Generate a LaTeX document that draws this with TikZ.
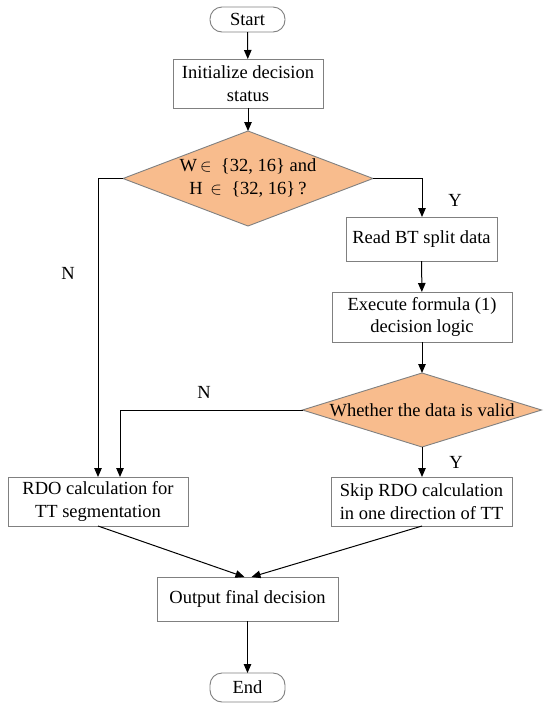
\documentclass[tikz,border=0pt]{standalone}
\usepackage{fontspec}
\setmainfont{Liberation Serif}
\usetikzlibrary{arrows.meta,shapes.geometric,calc}
\definecolor{decfill}{RGB}{248,188,141}
\definecolor{boxline}{RGB}{128,128,128}
\begin{document}
\begin{tikzpicture}[x=1pt,y=-1pt,
  font=\fontsize{18.5}{22.5}\selectfont,
  base/.style={draw=boxline,line width=0.9pt,inner sep=0pt,outer sep=0pt,align=center},
  procbox/.style={base,rectangle},
  termbox/.style={base,rectangle,rounded corners=12pt},
  decbox/.style={base,diamond,fill=decfill},
  txt/.style={inner sep=0pt,align=center},
  conn/.style={line width=1pt,-{Triangle[length=9pt,width=7.5pt]}},
  lbl/.style={inner sep=0pt}]
\useasboundingbox (0,0) rectangle (550,710);
\fill[white] (0,0) rectangle (550,710);

\node[termbox,minimum width=75pt,minimum height=25pt] (start) at (247.5,19.5) {Start};
\node[procbox,minimum width=150pt,minimum height=49pt] (init) at (248,83.5) {Initialize decision\\status};
\node[decbox,minimum width=250pt,minimum height=95pt] (d1) at (248,178.5) {};
\node[txt] (d1t) at (248,178) {W\,$\in$\ \ \{32, 16\} and\\H \,$\in$\ \ \{32, 16\}\,?};
\node[procbox,minimum width=151pt,minimum height=44pt] (read) at (421.5,239) {Read BT split data};
\node[procbox,minimum width=180pt,minimum height=50pt] (exec) at (422,317) {Execute formula (1)\\decision logic};
\node[decbox,minimum width=239pt,minimum height=74pt] (d2) at (422,410) {};
\node[txt] (d2t) at (422,410) {Whether the data is valid};
\node[procbox,minimum width=180pt,minimum height=49pt] (rdo) at (98,501.5) {RDO calculation for\\TT segmentation};
\node[procbox,minimum width=181pt,minimum height=49pt] (skip) at (421.5,501.5) {Skip RDO calculation\\in one direction of TT};
\node[procbox,minimum width=181pt,minimum height=44pt] (out) at (247.5,599) {Output final decision};
\node[termbox,minimum width=75pt,minimum height=29pt] (end) at (247.5,687.5) {End};

\coordinate (rdoin) at ($(rdo.north)+(22,0)$);
\coordinate (outl) at ($(out.north)+(-3,0)$);
\coordinate (outr) at ($(out.north)+(4,0)$);

\draw[conn] (start) -- (init);
\draw[conn] (init) -- (d1.north);
\draw[conn] (d1.west) -| (rdo.north);
\draw[conn] (d1.east) -| (read.north -| 422,0);
\draw[conn] (read) -- (exec);
\draw[conn] (exec) -- (d2.north);
\draw[conn] (d2.west) -| (rdoin);
\draw[conn] (d2.south) -- (d2.south |- skip.north);
\draw[conn] (rdo.south) -- (outl);
\draw[conn] ($(skip.south)+(0.5,0)$) -- (outr);
\draw[conn] (out) -- (end);

\node[lbl] (n1) at (68,273) {N};
\node[lbl] (y1) at (455,200) {Y};
\node[lbl] (n2) at (204,392) {N};
\node[lbl] (y2) at (456,462) {Y};
\end{tikzpicture}
\end{document}
